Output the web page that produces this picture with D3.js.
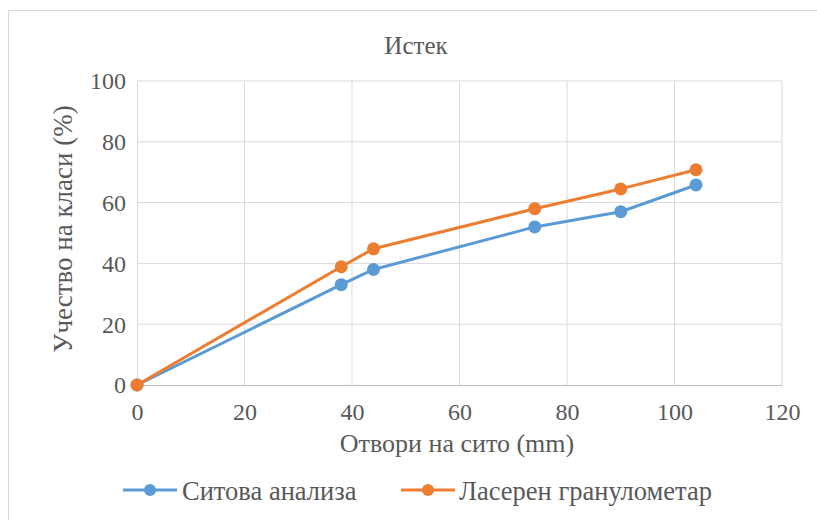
<!DOCTYPE html>
<html><head><meta charset="utf-8">
<script src="https://cdn.jsdelivr.net/npm/d3@7/dist/d3.min.js"></script>
<style>body{margin:0;background:#fff}svg{display:block}
svg text{font-family:"Liberation Serif","Times New Roman","DejaVu Serif",serif !important;fill:#595959}</style>
</head><body>
<svg id="c" width="817" height="520"></svg>
<script>
const xValues = [0, 38, 44, 74, 90, 104];
const sieveValues = [0, 33, 38, 52, 57, 65.8];
const laserValues = [0, 38.9, 44.8, 58, 64.5, 70.8];
const seriesNames = ["Ситова анализа", "Ласерен гранулометар"];
const xTicks = [0, 20, 40, 60, 80, 100, 120];
const yTicks = [0, 20, 40, 60, 80, 100];
const colors = ["#5b9bd5", "#ed7d31"];

const svg = d3.select("#c");
const L = 137, R = 782, T = 81, B = 385;
const x = d3.scaleLinear().domain([0, 120]).range([L, R]);
const y = d3.scaleLinear().domain([0, 100]).range([B, T]);

svg.append("rect").attr("x", 8.5).attr("y", 10.5).attr("width", 850).attr("height", 560)
  .attr("fill", "#fff").attr("stroke", "#d9d9d9").attr("stroke-width", 1);

// gridlines
svg.append("g").selectAll("line").data(yTicks.filter(d => d > 0)).join("line")
  .attr("x1", L).attr("x2", R).attr("y1", d => y(d)).attr("y2", d => y(d))
  .attr("stroke", "#d9d9d9").attr("stroke-width", 1);
svg.append("g").selectAll("line").data(xTicks.filter(d => d > 0)).join("line")
  .attr("y1", T).attr("y2", B).attr("x1", d => x(d)).attr("x2", d => x(d))
  .attr("stroke", "#d9d9d9").attr("stroke-width", 1);

// axes
const xAxis = svg.append("g").attr("transform", `translate(0,${B})`)
  .call(d3.axisBottom(x).tickValues(xTicks).tickSize(0).tickPadding(0));
xAxis.select(".domain").attr("stroke", "#bfbfbf");
xAxis.selectAll(".tick text").attr("y", 35).attr("dy", null);
const yAxis = svg.append("g").attr("transform", `translate(${L},0)`)
  .call(d3.axisLeft(y).tickValues(yTicks).tickSize(0).tickPadding(11));
yAxis.select(".domain").attr("stroke", "#d9d9d9");
yAxis.selectAll(".tick text").attr("dy", "0.33em");
svg.selectAll(".tick text").attr("font-size", 24);

// titles
svg.append("text").attr("x", 416).attr("y", 54).attr("text-anchor", "middle")
  .attr("font-size", 25).text("Истек");
svg.append("text").attr("x", 457).attr("y", 452).attr("text-anchor", "middle")
  .attr("font-size", 26).text("Отвори на сито (mm)");
svg.append("text").attr("transform", `translate(72,229) rotate(-90)`).attr("text-anchor", "middle")
  .attr("font-size", 27).text("Учество на класи (%)");

const series = [sieveValues, laserValues];
const line = d3.line().x((d, i) => x(xValues[i])).y(d => y(d));
series.forEach((vals, k) => {
  svg.append("path").attr("d", line(vals)).attr("fill", "none")
    .attr("stroke", colors[k]).attr("stroke-width", 3).attr("stroke-linejoin", "round");
});
series.forEach((vals, k) => {
  svg.append("g").selectAll("circle").data(vals).join("circle")
    .attr("cx", (d, i) => x(xValues[i])).attr("cy", d => y(d)).attr("r", 6.5)
    .attr("fill", colors[k]);
});

// legend
const legendItems = [{x0: 123, tx: 182}, {x0: 401, tx: 459}];
legendItems.forEach((it, k) => {
  const g = svg.append("g");
  g.append("line").attr("x1", it.x0).attr("x2", it.x0 + 54).attr("y1", 490).attr("y2", 490)
    .attr("stroke", colors[k]).attr("stroke-width", 3);
  g.append("circle").attr("cx", it.x0 + 27).attr("cy", 490).attr("r", 6).attr("fill", colors[k]);
  g.append("text").attr("x", it.tx).attr("y", 500).attr("font-size", 26.5)
    .text(seriesNames[k]);
});
</script>
</body></html>
